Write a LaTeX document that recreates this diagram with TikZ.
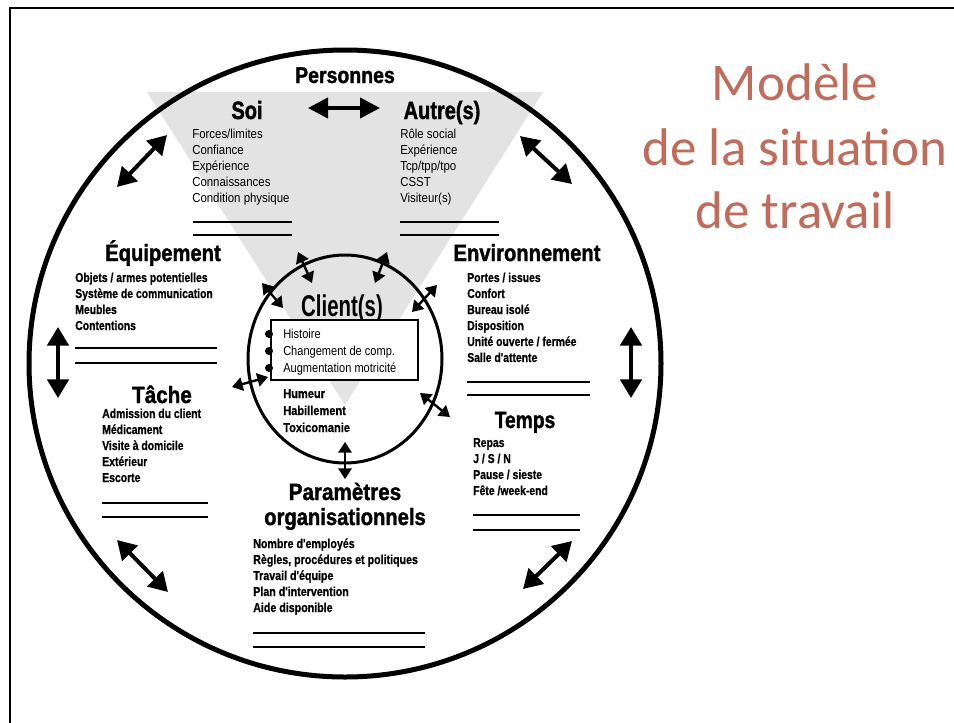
\documentclass[tikz,border=0pt]{standalone}
\usepackage{fontspec}
\setmainfont{Liberation Sans}
\newfontfamily\titlefont{Carlito}
\newfontfamily\heavyfont[FakeBold=1.6]{Liberation Sans Bold}
\newfontfamily\semiheavy[FakeBold=0.8]{Liberation Sans Bold}
\usetikzlibrary{arrows.meta}
\definecolor{titlecol}{RGB}{192,108,90}
\definecolor{trigrey}{RGB}{227,227,227}
\newcommand{\hsc}[2]{\scalebox{#1}[1]{#2}}
\newcommand{\hdfont}{\fontsize{17.6pt}{20pt}\selectfont\heavyfont}
\newcommand{\itfont}{\fontsize{9.75pt}{12pt}\selectfont}
\newcommand{\itemlist}[2]{\hsc{#1}{\begin{tabular}[t]{@{}l@{}}#2\end{tabular}}}
\tikzset{
  bigarrow/.style={line width=3pt,{Triangle[length=14pt,width=16pt]}-{Triangle[length=14pt,width=16pt]}},
  smallarrow/.style={line width=1.8pt,{Triangle[length=8pt,width=10pt]}-{Triangle[length=8pt,width=10pt]}},
  heading/.style={anchor=base,inner sep=0pt},
  items/.style={anchor=base west,inner sep=0pt},
  blank/.style={line width=1.1pt},
}
\begin{document}
\begin{tikzpicture}[x=0.75pt,y=-0.75pt]
\useasboundingbox (0,0) rectangle (954,722);
% grey triangle
\fill[trigrey] (147,92) -- (543,92) -- (345,405) -- cycle;
% frame
\draw[line width=1.5pt] (10,730) -- (10,8) -- (960,8);
% outer ellipse and inner circle
\draw[line width=3.75pt] (345,363.5) ellipse [x radius=316, y radius=313.5];
\draw[line width=2.25pt] (345,359) ellipse [x radius=97, y radius=104];

% title
\node[anchor=base,inner sep=0pt,text=titlecol] (t1) at (795,100) {\titlefont\fontsize{39.75pt}{48pt}\selectfont Modèle};
\node[anchor=base,inner sep=0pt,text=titlecol] (t2) at (795,165) {\titlefont\fontsize{39.75pt}{48pt}\selectfont de la situation};
\node[anchor=base,inner sep=0pt,text=titlecol] (t3) at (795,228) {\titlefont\fontsize{39.75pt}{48pt}\selectfont de travail};

% Personnes
\node[heading] (pers) at (345,83) {\fontsize{17pt}{19pt}\selectfont\heavyfont\hsc{0.86}{Personnes}};
\node[heading] (soi) at (247,119) {\fontsize{18.75pt}{20pt}\selectfont\heavyfont\hsc{0.8}{Soi}};
\node[heading] (autre) at (442,119) {\fontsize{18.75pt}{20pt}\selectfont\heavyfont\hsc{0.8}{Autre(s)}};
\coordinate (sa1) at (308,108);
\coordinate (sa2) at (380,108);
\draw[line width=3pt,{Triangle[length=15pt,width=15pt]}-{Triangle[length=15pt,width=15pt]}] (sa1) -- (sa2);

\node[items] (soiL) at (192,138) {\itfont\itemlist{0.88}{Forces/limites\\Confiance\\Expérience\\Connaissances\\Condition physique}};
\node[items] (autL) at (400,138) {\itfont\itemlist{0.88}{Rôle social\\Expérience\\Tcp/tpp/tpo\\CSST\\Visiteur(s)}};
\coordinate (s1a) at (193,222); \coordinate (s1b) at (292,222);
\coordinate (s2a) at (193,235); \coordinate (s2b) at (292,235);
\coordinate (a1a) at (400,222); \coordinate (a1b) at (499,222);
\coordinate (a2a) at (400,235); \coordinate (a2b) at (499,235);
\draw[blank] (s1a) -- (s1b); \draw[blank] (s2a) -- (s2b);
\draw[blank] (a1a) -- (a1b); \draw[blank] (a2a) -- (a2b);

% Equipement
\node[heading] (equip) at (163,261) {\hdfont\hsc{0.86}{Équipement}};
\node[items] (equipL) at (75,282) {\itfont\semiheavy\itemlist{0.8}{Objets / armes potentielles\\Système de communication\\Meubles\\Contentions}};
\coordinate (e1a) at (75,348); \coordinate (e1b) at (217,348);
\coordinate (e2a) at (75,363); \coordinate (e2b) at (217,363);
\draw[blank] (e1a) -- (e1b); \draw[blank] (e2a) -- (e2b);

% Environnement
\node[heading] (envir) at (527,261) {\hdfont\hsc{0.86}{Environnement}};
\node[items] (envirL) at (467,282) {\itfont\semiheavy\itemlist{0.8}{Portes / issues\\Confort\\Bureau isolé\\Disposition\\Unité ouverte / fermée\\Salle d'attente}};
\coordinate (n1a) at (467,382); \coordinate (n1b) at (590,382);
\coordinate (n2a) at (467,395); \coordinate (n2b) at (590,395);
\draw[blank] (n1a) -- (n1b); \draw[blank] (n2a) -- (n2b);

% Tache
\node[heading] (tache) at (162,403) {\hdfont\hsc{0.88}{Tâche}};
\node[items] (tacheL) at (102,418) {\itfont\semiheavy\itemlist{0.8}{Admission du client\\Médicament\\Visite à domicile\\Extérieur\\Escorte}};
\coordinate (c1a) at (102,503); \coordinate (c1b) at (208,503);
\coordinate (c2a) at (102,517); \coordinate (c2b) at (208,517);
\draw[blank] (c1a) -- (c1b); \draw[blank] (c2a) -- (c2b);

% Temps
\node[heading] (temps) at (525,428) {\hdfont\hsc{0.82}{Temps}};
\node[items] (tempsL) at (473,447) {\itfont\semiheavy\itemlist{0.8}{Repas\\J / S / N\\Pause / sieste\\Fête /week-end}};
\coordinate (m1a) at (473,515); \coordinate (m1b) at (580,515);
\coordinate (m2a) at (473,530); \coordinate (m2b) at (580,530);
\draw[blank] (m1a) -- (m1b); \draw[blank] (m2a) -- (m2b);

% Parametres organisationnels
\node[heading] (param1) at (345,500) {\hdfont\hsc{0.88}{Paramètres}};
\node[heading] (param2) at (345,525) {\hdfont\hsc{0.86}{organisationnels}};
\node[items] (paramL) at (253,548) {\itfont\semiheavy\itemlist{0.82}{Nombre d'employés\\Règles, procédures et politiques\\Travail d'équipe\\Plan d'intervention\\Aide disponible}};
\coordinate (p1a) at (253,633); \coordinate (p1b) at (425,633);
\coordinate (p2a) at (253,647); \coordinate (p2b) at (425,647);
\draw[blank] (p1a) -- (p1b); \draw[blank] (p2a) -- (p2b);

% Client
\node[heading] (client) at (342,316) {\fontsize{22.5pt}{24pt}\selectfont\bfseries\hsc{0.68}{Client(s)}};
\node[draw,fill=white,line width=1.2pt,minimum width=147*0.75pt,minimum height=60*0.75pt,inner sep=0pt] (cbox) at (344.5,350) {};
\fill (269,334) circle [radius=4];
\fill (269,351) circle [radius=4];
\fill (269,368) circle [radius=4];
\node[items] (clientL) at (283,338) {\fontsize{9.75pt}{12.75pt}\selectfont\itemlist{0.85}{Histoire\\Changement de comp.\\Augmentation motricité}};
\node[items] (clientL2) at (283,398) {\fontsize{9.75pt}{12.75pt}\selectfont\semiheavy\itemlist{0.85}{Humeur\\Habillement\\Toxicomanie}};

% outer arrows
\coordinate (o1a) at (117,187); \coordinate (o1b) at (167,135);
\coordinate (o2a) at (520,136); \coordinate (o2b) at (572,184);
\coordinate (o3a) at (58,327);  \coordinate (o3b) at (58,398);
\coordinate (o4a) at (631,327); \coordinate (o4b) at (631,398);
\coordinate (o5a) at (117,540); \coordinate (o5b) at (168,592);
\coordinate (o6a) at (572,541); \coordinate (o6b) at (523,589);
\foreach \i in {1,...,6} {\draw[bigarrow] (o\i a) -- (o\i b);}

% inner arrows
\coordinate (i1a) at (298,252); \coordinate (i1b) at (312,283);
\coordinate (i2a) at (387,252); \coordinate (i2b) at (375,283);
\coordinate (i3a) at (262,283); \coordinate (i3b) at (283,308);
\coordinate (i4a) at (437,285); \coordinate (i4b) at (412,312);
\coordinate (i5a) at (232,387); \coordinate (i5b) at (268,377);
\coordinate (i6a) at (420,393); \coordinate (i6b) at (450,417);
\coordinate (i7a) at (345,442); \coordinate (i7b) at (345,479);
\foreach \i in {1,...,7} {\draw[smallarrow] (i\i a) -- (i\i b);}
\end{tikzpicture}
\end{document}
